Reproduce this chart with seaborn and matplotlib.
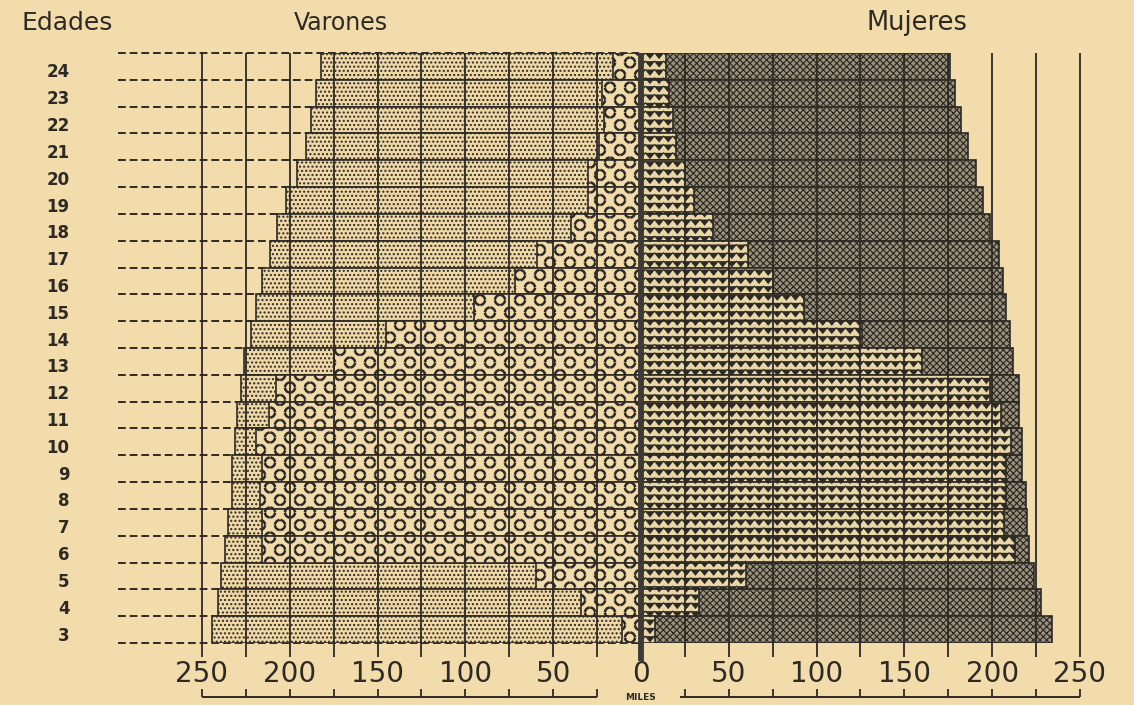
import numpy as np
import pandas as pd
import matplotlib
matplotlib.use("Agg")
import matplotlib.pyplot as plt
import matplotlib.hatch as mhatch
from matplotlib.path import Path
from matplotlib.ticker import FuncFormatter, FixedLocator
from matplotlib.transforms import ScaledTranslation
import seaborn as sns

# ---- datos (miles de personas), de 24 años (arriba) a 3 años (abajo) ----
edades = [24, 23, 22, 21, 20, 19, 18, 17, 16, 15, 14, 13, 12, 11, 10, 9, 8, 7, 6, 5, 4, 3]
varones_total = [182, 185, 188, 191, 196, 202, 207, 211, 216, 219, 222, 226,
                 228, 230, 231, 233, 233, 235, 237, 239, 241, 244]
varones_escuela = [16, 22, 21, 24, 30, 30, 40, 59, 72, 95, 145, 175,
                   208, 212, 219, 216, 217, 216, 216, 60, 34, 11]
mujeres_total = [176, 179, 182, 186, 191, 195, 199, 204, 206, 208, 210, 212,
                 215, 215, 217, 217, 219, 220, 221, 224, 228, 234]
mujeres_escuela = [14, 16, 18, 20, 25, 30, 41, 61, 75, 93, 126, 160,
                   199, 205, 211, 208, 208, 207, 213, 60, 33, 8]
marcas_miles = [-250, -200, -150, -100, -50, 0, 50, 100, 150, 200, 250]
rejilla = list(range(-250, 251, 25))

PAPEL = "#F3DCAC"
TINTA = "#2d2a25"


# zig-zag (chevron) hatch, used for the '*' character
class ZigZagHatch(mhatch.HatchPatternBase):
    def __init__(self, hatch, density):
        self.num_lines = int(hatch.count('*') * density)
        self.teeth = 11
        self.amp = 0.055
        self.n_pts = 2 * self.teeth + 1
        self.num_vertices = (self.num_lines + 2) * self.n_pts if self.num_lines else 0

    def set_vertices_and_codes(self, vertices, codes):
        xs = np.linspace(0.0, 1.0, self.n_pts)
        off = np.where(np.arange(self.n_pts) % 2 == 0, self.amp, 0.0)
        step = 1.0 / self.num_lines
        for j, base in enumerate(np.arange(-1, self.num_lines + 1) * step):
            sl = slice(j * self.n_pts, (j + 1) * self.n_pts)
            vertices[sl, 0] = xs
            vertices[sl, 1] = base + off
            codes[sl] = Path.LINETO
            codes[j * self.n_pts] = Path.MOVETO


# staggered rings made of four short arcs, used for the 'O' character
class BrokenRingHatch(mhatch.HatchPatternBase):
    def __init__(self, hatch, density):
        k = hatch.count('O')
        self.cols = 5 * k
        self.rows = 8 * k
        self.radius = 0.05 / max(k, 1)
        self.arc_pts = 6
        centres = 0
        if k:
            for i in range(self.rows + 1):
                centres += (self.cols + 1) if i % 2 == 0 else self.cols
        self.num_vertices = centres * 4 * self.arc_pts

    def set_vertices_and_codes(self, vertices, codes):
        span = np.deg2rad(28)
        idx = 0
        for i in range(self.rows + 1):
            y = i / self.rows
            if i % 2 == 0:
                xs = np.arange(self.cols + 1) / self.cols
            else:
                xs = (np.arange(self.cols) + 0.5) / self.cols
            for x in xs:
                for m in range(4):
                    a0 = np.deg2rad(45 + 90 * m)
                    t = np.linspace(a0 - span, a0 + span, self.arc_pts)
                    sl = slice(idx, idx + self.arc_pts)
                    vertices[sl, 0] = x + self.radius * np.cos(t)
                    vertices[sl, 1] = y + self.radius * np.sin(t)
                    codes[sl] = Path.LINETO
                    codes[idx] = Path.MOVETO
                    idx += self.arc_pts


mhatch._hatch_types = [ZigZagHatch if t is mhatch.Stars
                       else BrokenRingHatch if t is mhatch.LargeCircles
                       else t
                       for t in mhatch._hatch_types]

sns.set_theme(style="white")
plt.rcParams["font.family"] = ["DejaVu Sans"]
plt.rcParams["hatch.linewidth"] = 1.0
plt.rcParams["hatch.color"] = TINTA

df = pd.DataFrame({
    "edad": [str(e) for e in edades],
    "var_total": [-v for v in varones_total],
    "var_escuela": [-v for v in varones_escuela],
    "muj_total": mujeres_total,
    "muj_escuela": mujeres_escuela,
})
orden = df["edad"].tolist()

fig = plt.figure(figsize=(11.34, 7.05), dpi=100, facecolor=PAPEL)
ax = fig.add_axes([118 / 1134, 62 / 705, (1100 - 118) / 1134, 590 / 705])
ax.set_facecolor(PAPEL)

capas = [
    ("var_total", "#EFD8A6", "....", 1.0),
    ("var_escuela", "#F2DBAA", "O", 1.8),
    ("muj_total", "#9a917a", "xxxxx", 0.85),
    ("muj_escuela", "#E9D7A8", "**", 0.75),
]
for col, fc, hatch, hlw in capas:
    n_before = len(ax.patches)
    sns.barplot(data=df, y="edad", x=col, order=orden, orient="y",
                color=fc, saturation=1, width=1.0, errorbar=None,
                hatch=hatch, edgecolor=TINTA, linewidth=1.2, ax=ax)
    for p in ax.patches[n_before:]:
        p.set_zorder(1.5)
        if hasattr(p, "set_hatch_linewidth"):
            p.set_hatch_linewidth(hlw)

n = len(edades)
ax.set_xlim(-297.8, 261.4)
ax.set_ylim(n - 0.5, -0.5)

# dashed guide lines at each age boundary, left side only
ax.hlines(np.arange(n + 1) - 0.5, -297.8, 0, colors=TINTA, linewidth=1.4,
          linestyles=(0, (4, 2)), zorder=0.5, clip_on=False)

# vertical grid every 25 thousand, drawn over the bars
xt = ax.get_xaxis_transform()
ax.vlines([g for g in rejilla if g != 0], -0.024, 1, transform=xt, colors=TINTA,
          linewidth=1.3, zorder=3, clip_on=False)
ax.vlines([0], -0.03, 1, transform=xt, colors="#3b3a35", linewidth=4.2,
          zorder=4, clip_on=False)

# scale line below the numbers, with upward ticks
ybase = -0.0915
ax.hlines([ybase, ybase], [-250, 22], [-25, 250], transform=xt, colors=TINTA,
          linewidth=1.4, clip_on=False)
ax.vlines([g for g in rejilla if g != 0], ybase, -0.078, transform=xt,
          colors=TINTA, linewidth=1.3, clip_on=False)

# axis ticks and labels
ax.xaxis.set_major_locator(FixedLocator(marcas_miles))
ax.xaxis.set_major_formatter(FuncFormatter(lambda v, p: f"{abs(int(round(v)))}"))
ax.tick_params(axis="x", length=0, pad=12, labelsize=20, labelcolor=TINTA)
ax.tick_params(axis="y", length=0, pad=35, labelsize=12, labelcolor=TINTA)
for lbl in ax.get_yticklabels():
    lbl.set_fontweight("bold")
    lbl.set_transform(lbl.get_transform() + ScaledTranslation(0, -0.04, fig.dpi_scale_trans))
ax.set_xlabel("")
ax.set_ylabel("")
for s in ax.spines.values():
    s.set_visible(False)

fig.text(22 / 1134, 1 - 23 / 705, "Edades", fontsize=18, color=TINTA,
         ha="left", va="center")
fig.text(341 / 1134, 1 - 23 / 705, "Varones", fontsize=17, color=TINTA,
         ha="center", va="center")
fig.text(917 / 1134, 1 - 23 / 705, "Mujeres", fontsize=18.5, color=TINTA,
         ha="center", va="center")
fig.text(640 / 1134, 1 - 698 / 705, "MILES", fontsize=6.5, fontweight="bold",
         color=TINTA, ha="center", va="center")

fig.savefig("out.png", dpi=100, facecolor=PAPEL)
